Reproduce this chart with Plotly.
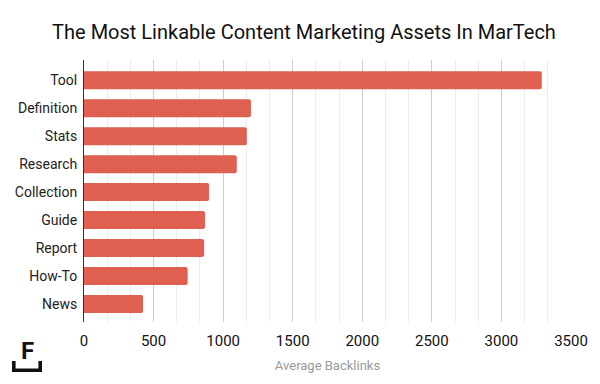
import plotly.graph_objects as go

categories = ["Tool", "Definition", "Stats", "Research", "Collection", "Guide", "Report", "How-To", "News"]
backlinks = [3290, 1200, 1170, 1098, 899, 870, 863, 745, 424]
x_ticks = [0, 500, 1000, 1500, 2000, 2500, 3000, 3500]

# page body has an 8px default margin; the figure is sized to fill the rest of the window
OFF = 8
W, H = 600 - OFF, 384 - OFF
ML, MT = 84 - OFF, 60 - OFF
MR = W - (571 - OFF)
MB = H - (322 - OFF)

def px(x):
    return (x - OFF - ML) / (W - ML - MR)

def py(y):
    return 1 - (y - OFF - MT) / (H - MT - MB)

fig = go.Figure(go.Bar(
    x=backlinks, y=categories, orientation="h",
    marker=dict(color="#DF5F50", cornerradius=2, line=dict(width=0)),
    hoverinfo="x+y",
))

bx0, bx1, by0, by1, th = 12, 42, 361, 372, 3.6
path = (f"M {px(bx0)},{py(by0)} L {px(bx0)},{py(by1)} L {px(bx1)},{py(by1)} L {px(bx1)},{py(by0)} "
        f"L {px(bx1-th)},{py(by0)} L {px(bx1-th)},{py(by1-th)} L {px(bx0+th)},{py(by1-th)} L {px(bx0+th)},{py(by0)} Z")

fig.update_layout(
    width=W, height=H,
    margin=dict(l=ML, r=MR, t=MT, b=MB, pad=0, autoexpand=False),
    paper_bgcolor="white", plot_bgcolor="white",
    font=dict(family="Roboto", color="#222"),
    bargap=0.357,
    showlegend=False,
    title=dict(text="The Most Linkable Content Marketing Assets In MarTech",
               x=0.5, xanchor="center", y=1 - (32 - OFF) / H, yanchor="middle",
               font=dict(size=20, color="#111", family="Roboto")),
    xaxis=dict(
        range=[0, 3500], tickvals=x_ticks, ticktext=[str(v) for v in x_ticks],
        showgrid=True, gridcolor="#cfcfcf", gridwidth=1, zeroline=False,
        minor=dict(dtick=500 / 3, tick0=0, showgrid=True, gridcolor="#ececec", gridwidth=1),
        ticks="outside", ticklen=5, tickcolor="rgba(0,0,0,0)",
        tickfont=dict(size=15, color="#111"),
        title=dict(text="Average Backlinks", font=dict(size=13, color="#9a9a9a"), standoff=11),
        automargin=False,
        fixedrange=True,
    ),
    yaxis=dict(
        categoryorder="array", categoryarray=categories,
        range=[8.64, -0.72],
        showline=True, linecolor="#333", linewidth=1, showgrid=False, zeroline=False,
        ticks="outside", ticklen=3, tickcolor="rgba(0,0,0,0)",
        tickfont=dict(size=14, color="#222"),
        automargin=False,
        fixedrange=True,
    ),
    shapes=[dict(type="path", xref="paper", yref="paper", path=path,
                 fillcolor="#111", line=dict(width=0))],
    annotations=[dict(text="<b>F</b>", xref="paper", yref="paper",
                      x=px(27.5), y=py(351), xanchor="center", yanchor="middle",
                      showarrow=False, font=dict(size=24, color="#111", family="Roboto"))],
)

fig.write_html("out.html")
